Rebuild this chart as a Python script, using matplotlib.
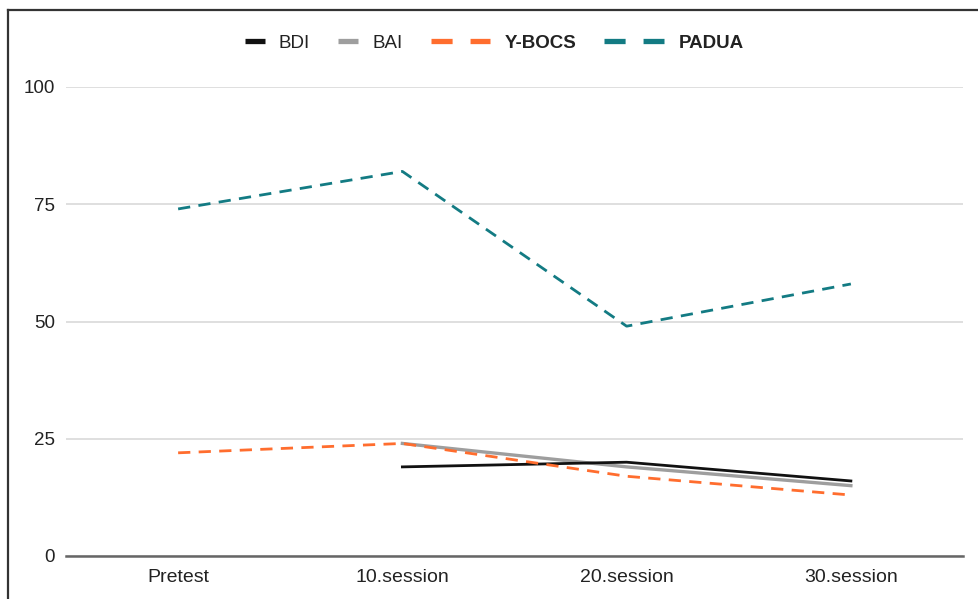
import matplotlib
matplotlib.use("Agg")
import matplotlib.pyplot as plt
import numpy as np
from matplotlib.legend_handler import HandlerLine2D
from matplotlib.lines import Line2D

plt.rcParams['font.family'] = ['Liberation Sans', 'DejaVu Sans']

categories = ["Pretest", "10.session", "20.session", "30.session"]
bdi = [np.nan, 19, 20, 16]
bai = [np.nan, 24, 19, 15]
ybocs = [22, 24, 17, 13]
padua = [74, 82, 49, 58]
yticks = [0, 25, 50, 75, 100]

c_bdi = "#111111"
c_bai = "#9e9e9e"
c_ybocs = "#ff6d2e"
c_padua = "#137b83"

fig = plt.figure(figsize=(9.79, 5.99), dpi=100)
ax = fig.add_axes([66/979, 1-556/599, (963-66)/979, (556-87)/599])

x = np.arange(len(categories))
lw = 2.0
dash = (4.4, 3.0)
ax.plot(x, padua, color=c_padua, lw=lw, dashes=dash, zorder=3)
ax.plot(x, bai, color=c_bai, lw=lw+0.4, zorder=3)
ax.plot(x, bdi, color=c_bdi, lw=lw, zorder=4)
ax.plot(x, ybocs, color=c_ybocs, lw=lw, dashes=dash, zorder=5)

ax.set_xlim(-0.5, len(categories) - 0.5)
ax.set_ylim(0, 100)
ax.set_yticks(yticks)
ax.set_xticks(x)
ax.set_xticklabels(categories)
ax.tick_params(axis='both', length=0, labelsize=13.5, colors="#222222")
ax.tick_params(axis='x', labelsize=14)
ax.tick_params(axis='y', pad=8)
ax.tick_params(axis='x', pad=9)
ax.grid(axis='y', color="#d9d9d9", lw=1.2, zorder=0)
for s in ax.spines.values():
    s.set_visible(False)
ax.axhline(0, color="#666666", lw=1.8, zorder=2, clip_on=False)

class ShortHandler(HandlerLine2D):
    def legend_artist(self, legend, orig_handle, fontsize, handlebox):
        handlebox.width = 1.07 * fontsize
        return super().legend_artist(legend, orig_handle, fontsize, handlebox)

hlw = 3.8
h_bdi = Line2D([], [], color=c_bdi, lw=hlw, solid_capstyle='butt')
h_bai = Line2D([], [], color=c_bai, lw=hlw, solid_capstyle='butt')
h_ybocs = Line2D([], [], color=c_ybocs, lw=hlw, dashes=(4.0, 3.4), dash_capstyle='butt')
h_padua = Line2D([], [], color=c_padua, lw=hlw, dashes=(4.0, 3.4), dash_capstyle='butt')
leg = fig.legend([h_bdi, h_bai, h_ybocs, h_padua], ["BDI", "BAI", "Y-BOCS", "PADUA"],
                 loc='center', bbox_to_anchor=(494/979, 1-43/599), ncol=4,
                 frameon=False, fontsize=13.5, handlelength=3.19, handletextpad=0.75,
                 columnspacing=1.5,
                 handler_map={h_bdi: ShortHandler(), h_bai: ShortHandler()})
for i, t in enumerate(leg.get_texts()):
    t.set_color("#222222")
    if i >= 2:
        t.set_fontweight('bold')

# figure frame (top and left edges)
fig.add_artist(Line2D([8/979, 1], [1-9.5/599, 1-9.5/599], transform=fig.transFigure, color="#333333", lw=1.6))
fig.add_artist(Line2D([8/979, 8/979], [0, 1-9.5/599], transform=fig.transFigure, color="#333333", lw=1.6))

fig.savefig("out.png", dpi=100)
